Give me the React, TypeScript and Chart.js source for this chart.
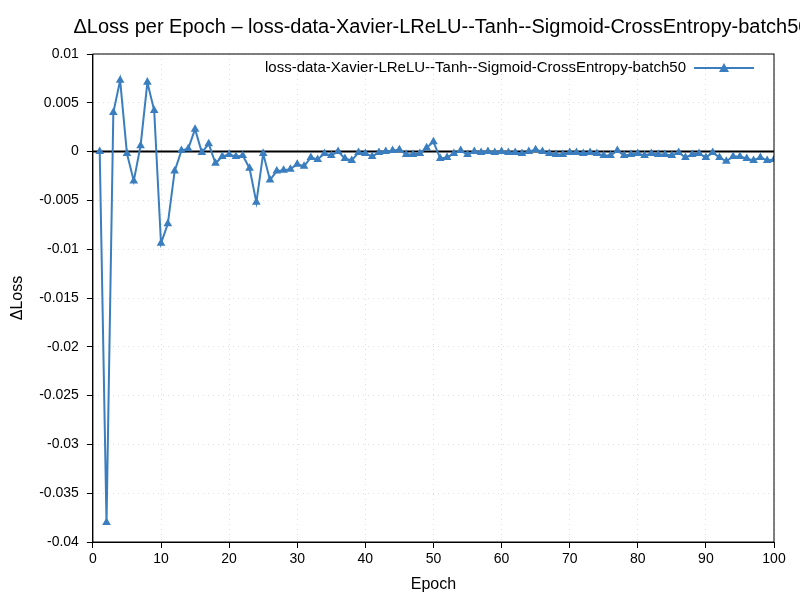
import { useEffect, useRef } from "react";
import { Chart, registerables } from "chart.js";

Chart.register(...registerables);

const seriesName = "loss-data-Xavier-LReLU--Tanh--Sigmoid-CrossEntropy-batch50";
const epochs = Array.from({ length: 100 }, (_, i) => i + 1);
const deltaLoss = [
  0, -0.038, 0.004, 0.0073, -0.0002, -0.003, 0.0006, 0.0071, 0.0042, -0.0094,
  -0.0074, -0.002, 0.0001, 0.0003, 0.0023, -0.0001, 0.0008, -0.0012, -0.0005, -0.0003,
  -0.0005, -0.0004, -0.0017, -0.0052, -0.0002, -0.0029, -0.002, -0.0019, -0.0018, -0.0013,
  -0.0015, -0.0006, -0.0008, -0.0002, -0.0004, 0.0, -0.0007, -0.0009, -0.0001, -0.0002,
  -0.0005, -0.0001, 0.0, 0.0001, 0.0002, -0.0003, -0.0003, -0.0002, 0.0004, 0.001,
  -0.0007, -0.0006, -0.0002, 0.0001, -0.0003, 0.0, -0.0001, 0.0, -0.0001, 0.0,
  -0.0001, -0.0001, -0.0002, 0.0, 0.0002, 0.0, -0.0002, -0.0003, -0.0003, -0.0001,
  -0.0001, -0.0002, -0.0001, -0.0002, -0.0004, -0.0004, 0.0001, -0.0004, -0.0003, -0.0002,
  -0.0004, -0.0002, -0.0003, -0.0003, -0.0004, -0.0001, -0.0006, -0.0003, -0.0002, -0.0006,
  -0.0001, -0.0006, -0.001, -0.0005, -0.0005, -0.0007, -0.0009, -0.0006, -0.0009, -0.0008,
];
const xTicks = [0, 10, 20, 30, 40, 50, 60, 70, 80, 90, 100];

const BLUE = "#3a7ebf";
const FONT = "'Liberation Sans', Arial, sans-serif";

function drawTriangle(ctx: CanvasRenderingContext2D, x: number, y: number, r: number) {
  ctx.beginPath();
  ctx.moveTo(x, y - r);
  ctx.lineTo(x + r, y + r * 0.8);
  ctx.lineTo(x - r, y + r * 0.8);
  ctx.closePath();
  ctx.fill();
}

// gnuplot-like title, legend, zero line and frame
const decorPlugin = {
  id: "decor",
  beforeDatasetsDraw(chart: Chart) {
    const { ctx, chartArea: a, scales } = chart;
    const y0 = scales.y.getPixelForValue(0);
    ctx.save();
    ctx.strokeStyle = "#000";
    ctx.lineWidth = 2;
    ctx.beginPath();
    ctx.moveTo(a.left, y0);
    ctx.lineTo(a.right, y0);
    ctx.stroke();
    ctx.restore();
  },
  afterDraw(chart: Chart) {
    const { ctx, chartArea: a } = chart;
    ctx.save();
    ctx.strokeStyle = "#000";
    ctx.lineWidth = 1;
    ctx.strokeRect(a.left, a.top, a.right - a.left, a.bottom - a.top);

    ctx.fillStyle = "#000";
    ctx.font = "20px " + FONT;
    ctx.textAlign = "center";
    ctx.textBaseline = "middle";
    ctx.fillText("ΔLoss per Epoch – " + seriesName, (a.left + a.right) / 2 + 8, 27);

    ctx.font = "15px " + FONT;
    ctx.textAlign = "right";
    const y = a.top + 14;
    const lineEnd = a.right - 20;
    const lineStart = lineEnd - 60;
    ctx.fillText(seriesName, lineStart - 8, y);
    ctx.strokeStyle = BLUE;
    ctx.lineWidth = 2;
    ctx.beginPath();
    ctx.moveTo(lineStart, y);
    ctx.lineTo(lineEnd, y);
    ctx.stroke();
    ctx.fillStyle = BLUE;
    drawTriangle(ctx, (lineStart + lineEnd) / 2, y, 5);
    ctx.restore();
  },
};

export default function App() {
  const ref = useRef<HTMLCanvasElement>(null);
  const chartRef = useRef<Chart | null>(null);

  useEffect(() => {
    if (!ref.current) return;
    if (chartRef.current) chartRef.current.destroy();
    chartRef.current = new Chart(ref.current, {
      type: "line",
      data: {
        datasets: [
          {
            label: seriesName,
            data: epochs.map((e, i) => ({ x: e, y: deltaLoss[i] })),
            borderColor: BLUE,
            backgroundColor: BLUE,
            borderWidth: 2,
            pointStyle: "triangle",
            pointRadius: 5,
            pointBorderWidth: 0,
            tension: 0,
          },
        ],
      },
      options: {
        animation: false,
        responsive: false,
        layout: { padding: { left: 4, right: 26, top: 54, bottom: 2 } },
        plugins: {
          legend: { display: false },
          tooltip: { enabled: false },
          title: { display: false },
        },
        scales: {
          x: {
            type: "linear",
            min: 0,
            max: 100,
            afterBuildTicks: (axis) => {
              axis.ticks = xTicks.map((v) => ({ value: v }));
            },
            title: { display: true, text: "Epoch", color: "#000", font: { family: FONT, size: 16 } },
            ticks: { color: "#000", font: { family: FONT, size: 14 }, maxRotation: 0 },
            grid: { color: "#dddddd", lineWidth: 1, tickColor: "#000", tickLength: 6 },
            border: { color: "#000", dash: [1, 4] },
          },
          y: {
            min: -0.04,
            max: 0.01,
            title: { display: true, text: "ΔLoss", color: "#000", font: { family: FONT, size: 16 } },
            ticks: {
              stepSize: 0.005,
              color: "#000",
              padding: 8,
              font: { family: FONT, size: 14 },
              callback: (v) => String(parseFloat(Number(v).toFixed(3))),
            },
            grid: { color: "#dddddd", lineWidth: 1, tickColor: "#000", tickLength: 6 },
            border: { color: "#000", dash: [1, 4] },
          },
        },
      },
      plugins: [decorPlugin],
    });
    return () => {
      chartRef.current?.destroy();
      chartRef.current = null;
    };
  }, []);

  return (
    <div style={{ position: "fixed", left: 0, top: 0, width: 800, height: 600, background: "#fff" }}>
      <canvas ref={ref} width={800} height={600} />
    </div>
  );
}
